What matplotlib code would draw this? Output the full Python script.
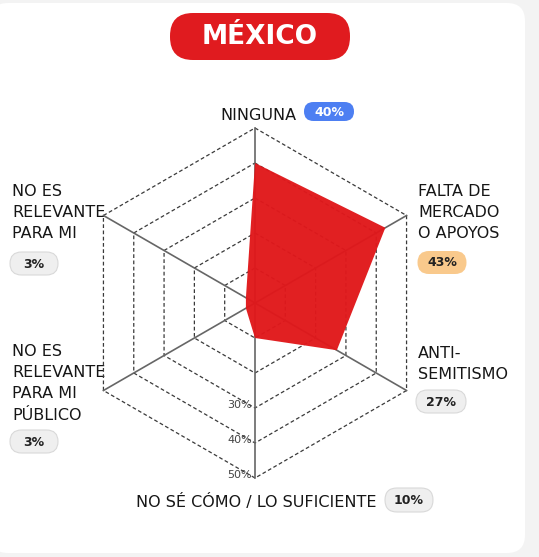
import numpy as np
import matplotlib.pyplot as plt
from matplotlib.patches import FancyBboxPatch
from matplotlib import transforms

# datos
categorias = ["NINGUNA", "FALTA DE MERCADO O APOYOS", "ANTI-SEMITISMO",
              "NO SÉ CÓMO / LO SUFICIENTE", "NO ES RELEVANTE PARA MI PÚBLICO",
              "NO ES RELEVANTE PARA MI"]
valores = [40, 43, 27, 10, 3, 3]
anillos = [10, 20, 30, 40, 50]
etiquetas_anillo = [30, 40, 50]

W, H = 539, 557
plt.rcParams['font.family'] = ['DejaVu Sans']

fig = plt.figure(figsize=(W / 100, H / 100), dpi=100, facecolor='#f3f3f3')

# capa de fondo en pixeles (y hacia abajo)
bg = fig.add_axes([0, 0, 1, 1])
bg.set_xlim(0, W)
bg.set_ylim(H, 0)
bg.axis('off')
bg.patch.set_alpha(0)

bg.add_patch(FancyBboxPatch((-10, 3), 535, 550, boxstyle='round,pad=0,rounding_size=18',
                            facecolor='white', edgecolor='none'))

# titulo
bg.add_patch(FancyBboxPatch((170, 13), 180, 47, boxstyle='round,pad=0,rounding_size=23',
                            facecolor='#e01b1f', edgecolor='none'))
bg.text(260, 37, 'MÉXICO', color='white', fontsize=19, fontweight='bold',
        ha='center', va='center')


def pastilla(cx, cy, w, h, texto, fondo, borde, color_txt):
    bg.add_patch(FancyBboxPatch((cx - w / 2, cy - h / 2), w, h,
                                boxstyle=f'round,pad=0,rounding_size={h / 2}',
                                facecolor=fondo, edgecolor=borde, linewidth=0.8))
    bg.text(cx, cy + 0.5, texto, color=color_txt, fontsize=9, fontweight='bold',
            ha='center', va='center')


def etiqueta(x, y0, lineas, ha='left', paso=21.5):
    for i, l in enumerate(lineas):
        bg.text(x, y0 + i * paso, l, fontsize=11.5, color='#161616', ha=ha, va='baseline')


gris, borde_gris = '#efefef', '#d9d9d9'

# etiquetas de cada eje
etiqueta(296, 120.5, ["NINGUNA"], ha='right')
pastilla(329, 111.5, 50, 19, f"{valores[0]}%", '#4d7ff2', 'none', 'white')

etiqueta(418, 195.5, ["FALTA DE", "MERCADO", "O APOYOS"])
pastilla(442, 262.5, 49, 23, f"{valores[1]}%", '#f9c98c', 'none', '#222222')

etiqueta(418, 358.5, ["ANTI-", "SEMITISMO"], paso=20.5)
pastilla(441, 401.5, 50, 23, f"{valores[2]}%", gris, borde_gris, '#222222')

etiqueta(377, 506.5, ["NO SÉ CÓMO / LO SUFICIENTE"], ha='right')
pastilla(409, 500, 48, 24, f"{valores[3]}%", gris, borde_gris, '#222222')

etiqueta(12, 355.5, ["NO ES", "RELEVANTE", "PARA MI", "PÚBLICO"])
pastilla(34, 441.5, 48, 23, f"{valores[4]}%", gris, borde_gris, '#222222')

etiqueta(12, 195.5, ["NO ES", "RELEVANTE", "PARA MI"])
pastilla(34, 263.5, 48, 23, f"{valores[5]}%", gris, borde_gris, '#222222')

# radar
cx, cy, R = 255, 303, 175
ax = fig.add_axes([(cx - R) / W, (H - cy - R) / H, 2 * R / W, 2 * R / H], projection='polar')
ax.set_theta_offset(np.pi / 2)
ax.set_theta_direction(-1)
ax.set_ylim(0, 50)
ax.grid(False)
ax.spines['polar'].set_visible(False)
ax.set_xticks([])
ax.set_yticks([])
ax.patch.set_alpha(0)

n = len(categorias)
ang = np.linspace(0, 2 * np.pi, n, endpoint=False)
ang_c = np.concatenate([ang, ang[:1]])

for r in anillos:
    ax.plot(ang_c, [r] * (n + 1), color='#3a3a3a', lw=0.9, ls=(0, (3, 2)),
            clip_on=False, zorder=2)
for a in ang:
    ax.plot([a, a], [0, 50], color='#666666', lw=1.2, clip_on=False, zorder=2)

vals_c = valores + valores[:1]
ax.fill(ang_c, vals_c, color='#e0181b', alpha=0.97, lw=0, zorder=3)

off = transforms.offset_copy(ax.transData, fig=fig, x=-3, y=0, units='dots')
for r in etiquetas_anillo:
    ax.text(np.pi, r, f"{r}%", transform=off, ha='right', va='baseline',
            fontsize=8, color='#444444', zorder=4)

fig.savefig('out.png', dpi=100, facecolor=fig.get_facecolor())
